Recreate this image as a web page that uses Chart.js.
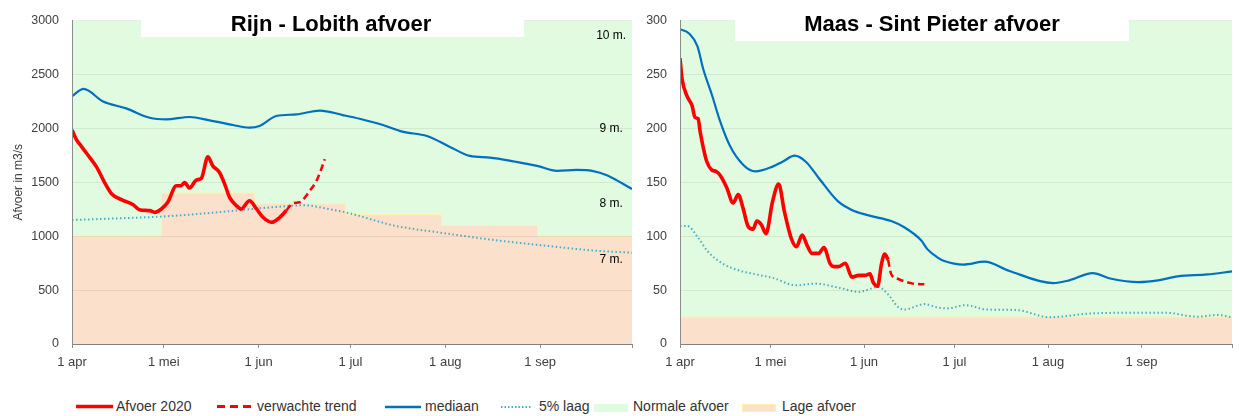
<!DOCTYPE html>
<html lang="nl">
<head>
<meta charset="utf-8">
<title>Afvoer Rijn en Maas 2020</title>
<script src="https://cdn.jsdelivr.net/npm/chart.js@4.4.1/dist/chart.umd.min.js"></script>
<style>
    body { margin: 0; width: 1239px; height: 416px; overflow: hidden; background: #fff; font-family: "Liberation Sans", Arial, sans-serif; }
    canvas { position: absolute; top: 0; }
    #rijnChart { left: 0; }
    #maasChart { left: 640px; }
    .item { position: absolute; top: 398px; font-size: 14px; line-height: 16px; color: #333; white-space: nowrap; }
    .key { position: absolute; }
</style>
</head>
<body>
<canvas id="rijnChart" width="640" height="390"></canvas>
<canvas id="maasChart" width="599" height="390"></canvas>

<svg class="key" style="left:76px;top:404px" width="37" height="5"><line x1="0" y1="2.5" x2="37" y2="2.5" stroke="#ff0000" stroke-width="3.5"/></svg>
<span class="item" style="left:116px">Afvoer 2020</span>
<svg class="key" style="left:217px;top:404px" width="34" height="5"><line x1="0" y1="2.5" x2="34" y2="2.5" stroke="#ff0000" stroke-width="3" stroke-dasharray="8,5"/></svg>
<span class="item" style="left:257px">verwachte trend</span>
<svg class="key" style="left:385px;top:405px" width="36" height="4"><line x1="0" y1="2" x2="36" y2="2" stroke="#0070c0" stroke-width="2.5"/></svg>
<span class="item" style="left:425px">mediaan</span>
<svg class="key" style="left:501px;top:405px" width="31" height="4"><line x1="0" y1="2" x2="31" y2="2" stroke="#4bacc6" stroke-width="2" stroke-dasharray="1.5,2"/></svg>
<span class="item" style="left:539px">5% laag</span>
<div class="key" style="left:594px;top:404px;width:34px;height:8px;background:#e1fbe0"></div>
<span class="item" style="left:633px">Normale afvoer</span>
<div class="key" style="left:742px;top:404px;width:34px;height:8px;background:#fbe0cb;border:1px solid #fff2b0;box-sizing:border-box"></div>
<span class="item" style="left:782px">Lage afvoer</span>

<script>
// x-as: dagen vanaf 1 april
const monthDays = [0, 30, 61, 91, 122, 153, 183];
const monthLabels = ['1 apr', '1 mei', '1 jun', '1 jul', '1 aug', '1 sep', ''];

// Rijn - Lobith (m3/s)
const rijnAfvoerDays = [0, 1.4, 3, 5, 8, 11, 13, 16.5, 20, 22, 25.4, 27, 29.2, 31.3, 34.1, 35.7, 36.8, 38.4, 40.6, 42.3, 44.4, 46, 48.2, 49.9, 51.5, 53.7, 55.3, 58, 60.3, 62.4, 65.2, 67.9, 70];
const rijnAfvoer = [1984, 1898, 1835, 1760, 1643, 1480, 1391, 1335, 1291, 1246, 1237, 1221, 1252, 1314, 1468, 1468, 1498, 1446, 1520, 1538, 1735, 1652, 1591, 1483, 1360, 1283, 1252, 1329, 1252, 1175, 1129, 1175, 1237];
const rijnTrendDays = [70, 72.2, 74.4, 77.7, 79.9, 81.3, 82.6];
const rijnTrend = [1237, 1305, 1314, 1421, 1514, 1610, 1714];
const rijnMediaanDays = [0, 3.8, 10, 17.7, 25.4, 30.8, 38.4, 45, 52.6, 58, 61.3, 66.8, 73.3, 81, 88.5, 94, 101.6, 108, 116, 123.5, 130, 136.6, 145, 152, 158.5, 165, 170, 175, 180, 183];
const rijnMediaan = [2298, 2366, 2252, 2185, 2098, 2083, 2105, 2074, 2031, 2006, 2022, 2114, 2129, 2165, 2123, 2089, 2031, 1969, 1929, 1828, 1744, 1729, 1690, 1652, 1606, 1615, 1606, 1563, 1486, 1438];
const rijnLaagDays = [0, 15, 30, 45, 60, 70, 76, 82, 91, 105, 121, 137.5, 154, 170, 183];
const rijnLaag = [1150, 1165, 1183, 1215, 1255, 1278, 1287, 1262, 1210, 1100, 1030, 966, 914, 868, 846];
const rijnLageDays = [0, 29.2, 59.7, 89.5, 120.8, 152.2, 183];
const rijnLage = [1000, 1400, 1300, 1200, 1100, 1000, 1000];
const rijnNormaal = 3000;
const rijnTicks = [0, 3000, 500];
const levelLabels = ['10 m.', '9 m.', '8 m.', '7 m.'];
const levelValues = [2862, 1994, 1302, 785];

// Maas - Sint Pieter (m3/s)
const maasAfvoerDays = [0, 0.7, 2.3, 4, 5, 6, 6.7, 7.8, 8.9, 10.5, 12, 13.3, 15.5, 17.6, 19.3, 20.9, 22.5, 24.2, 25.5, 26.9, 28.5, 30.7, 32.7, 34.6, 36.8, 38.6, 40.5, 42.2, 43.8, 46, 47.7, 49.8, 51, 52.6, 54.8, 57, 59.2, 61.3, 63, 64, 65.5, 66.8, 67.9, 69];
const maasAfvoer = [265, 245.5, 230, 221, 210, 209, 196.6, 181, 169, 161.5, 160, 156.5, 145, 130.8, 138.5, 126, 109.5, 106.4, 114, 111, 102.4, 132.4, 148.3, 123, 98.7, 90.2, 101, 91, 84, 84, 89.5, 74.3, 71.8, 71.8, 74.9, 62, 63.6, 63.6, 65, 57.4, 53.5, 74.3, 83.5, 78];
const maasTrendDays = [69, 70, 72.2, 74.5, 77.2, 81];
const maasTrend = [78, 65, 60.5, 58, 56, 55.3];
const maasMediaanDays = [0, 3, 5.8, 7.7, 10.7, 13, 16.5, 21, 25, 30.7, 34, 38, 41.7, 46, 52.5, 58, 63.5, 70, 74.5, 80, 82, 85.3, 87.6, 94, 101, 109, 123.7, 129, 136.8, 143, 152, 158.5, 165, 174.8, 183];
const maasMediaan = [292, 288, 276, 255, 230, 209, 184, 166, 160, 164.5, 169, 174.6, 169, 154, 132, 123, 118.6, 114, 108, 96, 88, 80.4, 77, 73.7, 76.4, 68, 56.5, 59, 65.7, 60.5, 57.4, 59, 62.7, 64.5, 67.3];
const maasLaagDays = [0, 2.3, 6, 9, 14.3, 19.8, 25.3, 30.7, 38.4, 44.9, 52.6, 59.2, 65.7, 69, 72.2, 74.4, 81, 85.3, 88.6, 94.6, 101.7, 111.6, 122.5, 136.7, 152, 160.8, 171.7, 178, 183];
const maasLaag = [109.5, 109.5, 98.7, 86.5, 74.3, 68, 64.5, 61.4, 54.4, 56, 52.3, 48.3, 52.8, 46, 34.5, 32, 37, 34, 33, 36, 32, 31.5, 24.8, 28.4, 29, 29, 25.3, 26.9, 24.8];
const maasLageDays = [0, 183];
const maasLage = [25, 25];
const maasNormaal = 300;
const maasTicks = [0, 300, 50];

const FONT = '"Liberation Sans", Arial, sans-serif';
const TEXT = '#404040';
const AXIS = '#8c8c8c';

function points(days, vals) {
    return days.map((d, i) => ({ x: d, y: vals[i] }));
}

function lineSet(label, days, vals, color, width, dash) {
    return {
        label: label,
        data: points(days, vals),
        borderColor: color,
        borderWidth: width,
        borderDash: dash || [],
        pointRadius: 0,
        cubicInterpolationMode: 'monotone',
        fill: false
    };
}

function buildDatasets(r) {
    return [
        lineSet('Afvoer 2020', r.afvoerDays, r.afvoer, '#ff0000', 3.6),
        lineSet('verwachte trend', r.trendDays, r.trend, '#ff0000', 2.5, [7, 4]),
        lineSet('mediaan', r.mediaanDays, r.mediaan, '#0070c0', 2.2),
        lineSet('5% laag', r.laagDays, r.laag, '#4bacc6', 2, [1.5, 2.5]),
        {
            label: 'Lage afvoer',
            data: points(r.lageDays, r.lage),
            stepped: 'before',
            borderColor: '#fff2b0',
            borderWidth: 1,
            pointRadius: 0,
            backgroundColor: '#fbe0cb',
            fill: 'origin'
        },
        {
            label: 'Normale afvoer',
            data: points([0, 183], [r.normaal, r.normaal]),
            borderWidth: 0,
            pointRadius: 0,
            backgroundColor: '#e1fbe0',
            fill: 'origin'
        }
    ];
}

function xAxis(height) {
    return {
        type: 'linear',
        min: 0,
        max: 183,
        afterBuildTicks: s => { s.ticks = monthDays.map(v => ({ value: v })); },
        ticks: {
            autoSkip: false,
            maxRotation: 0,
            padding: 7,
            color: TEXT,
            font: { family: FONT, size: 13 },
            callback: v => monthLabels[monthDays.indexOf(v)]
        },
        grid: { drawOnChartArea: false, tickLength: 4, color: AXIS, z: 1 },
        border: { color: AXIS, z: 1 },
        afterFit: s => { s.height = height; }
    };
}

function yAxis(range, width, title) {
    return {
        min: range[0],
        max: range[1],
        ticks: {
            stepSize: range[2],
            padding: 13,
            color: TEXT,
            font: { family: FONT, size: 12.5 },
            callback: v => String(v)
        },
        grid: { drawTicks: false, color: 'rgba(0,0,0,0.07)', z: 1 },
        border: { color: AXIS, z: 1 },
        title: title ? {
            display: true,
            text: title,
            color: TEXT,
            font: { family: FONT, size: 12 },
            padding: { top: 11, bottom: 0 }
        } : { display: false },
        afterFit: s => { s.width = width; }
    };
}

// witte titelbalk boven in het plotvlak
const titleBox = {
    id: 'titleBox',
    afterDraw(chart, args, opts) {
        const ctx = chart.ctx;
        ctx.save();
        ctx.fillStyle = '#fff';
        ctx.fillRect(opts.box[0], opts.box[1], opts.box[2], opts.box[3]);
        ctx.fillStyle = '#000';
        ctx.font = 'bold 22px ' + FONT;
        ctx.textAlign = 'center';
        ctx.textBaseline = 'alphabetic';
        ctx.fillText(opts.text, opts.cx, 31);
        ctx.restore();
    }
};

// waterstanden Lobith langs de rechterrand
const levelText = {
    id: 'levelText',
    afterDraw(chart) {
        const ctx = chart.ctx;
        const x = chart.scales.x.getPixelForValue(176.2);
        ctx.save();
        ctx.fillStyle = '#000';
        ctx.font = '12px ' + FONT;
        ctx.textAlign = 'center';
        ctx.textBaseline = 'middle';
        levelLabels.forEach((t, i) => {
            ctx.fillText(t, x, chart.scales.y.getPixelForValue(levelValues[i]));
        });
        ctx.restore();
    }
};

function makeChart(id, r, opts) {
    return new Chart(document.getElementById(id), {
        type: 'line',
        data: { datasets: buildDatasets(r) },
        options: {
            responsive: false,
            animation: false,
            events: [],
            layout: { padding: opts.padding },
            scales: {
                x: xAxis(46),
                y: yAxis(r.ticks, opts.yWidth, opts.yTitle)
            },
            plugins: {
                legend: { display: false },
                tooltip: { enabled: false },
                titleBox: opts.titleBox
            }
        },
        plugins: opts.plugins
    });
}

makeChart('rijnChart', {
    afvoerDays: rijnAfvoerDays, afvoer: rijnAfvoer,
    trendDays: rijnTrendDays, trend: rijnTrend,
    mediaanDays: rijnMediaanDays, mediaan: rijnMediaan,
    laagDays: rijnLaagDays, laag: rijnLaag,
    lageDays: rijnLageDays, lage: rijnLage,
    normaal: rijnNormaal, ticks: rijnTicks
}, {
    padding: { top: 19, right: 8, left: 0, bottom: 0 },
    yWidth: 72,
    yTitle: 'Afvoer in m3/s',
    titleBox: { box: [141, 18, 383, 19], text: 'Rijn - Lobith afvoer', cx: 331 },
    plugins: [titleBox, levelText]
});

makeChart('maasChart', {
    afvoerDays: maasAfvoerDays, afvoer: maasAfvoer,
    trendDays: maasTrendDays, trend: maasTrend,
    mediaanDays: maasMediaanDays, mediaan: maasMediaan,
    laagDays: maasLaagDays, laag: maasLaag,
    lageDays: maasLageDays, lage: maasLage,
    normaal: maasNormaal, ticks: maasTicks
}, {
    padding: { top: 17, right: 1, left: 0, bottom: 0 },
    yWidth: 40,
    yTitle: null,
    titleBox: { box: [95, 16, 394, 25], text: 'Maas - Sint Pieter afvoer', cx: 292 },
    plugins: [titleBox]
});
</script>
</body>
</html>
